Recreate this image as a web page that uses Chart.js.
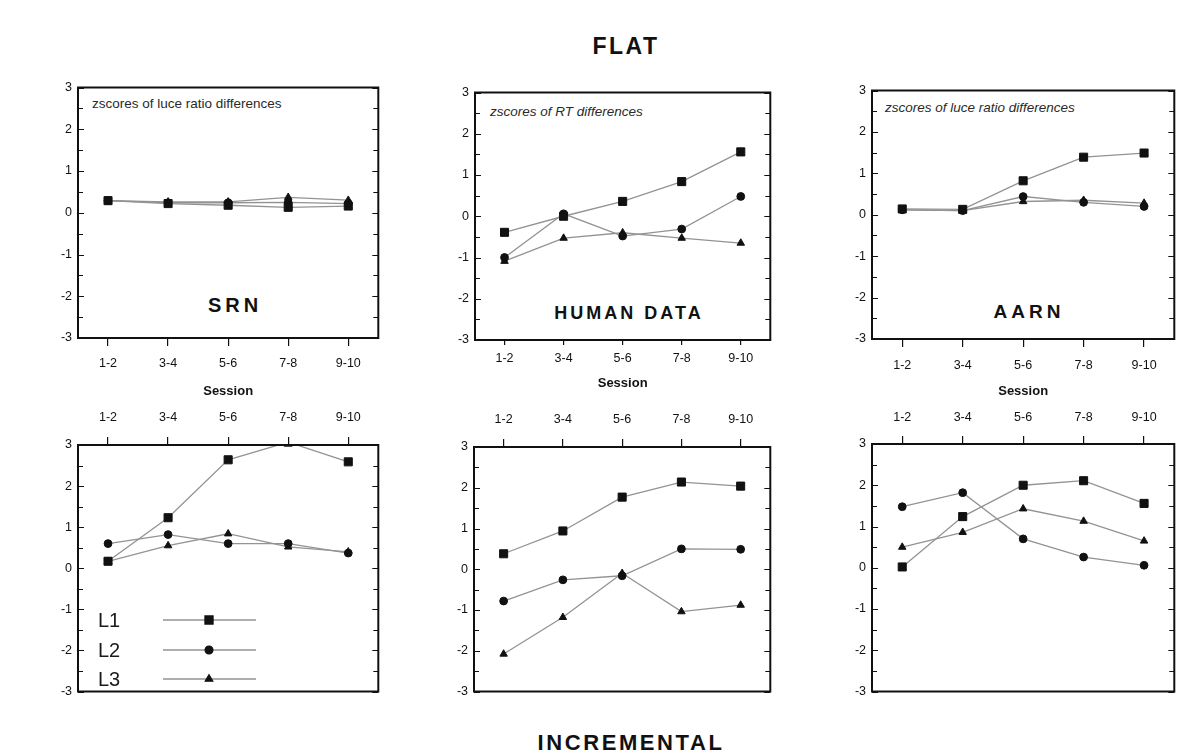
<!DOCTYPE html>
<html>
<head>
<meta charset="utf-8">
<script src="https://cdn.jsdelivr.net/npm/chart.js@4.4.0/dist/chart.umd.min.js"></script>
<style>
  body { margin: 0; background: #fff; width: 1179px; height: 754px; overflow: hidden; position: relative;
         font-family: "Liberation Sans", Arial, sans-serif; }
  canvas { position: absolute; }
  .lbl { position: absolute; font-weight: bold; color: #111; white-space: nowrap; transform: translateX(-50%); line-height: 1; }
  .note { position: absolute; font-size: 13.5px; color: #2a2a2a; white-space: nowrap; line-height: 1; }
</style>
</head>
<body>

<div class="lbl" style="left:626px; top:35px; font-size:23px; letter-spacing:2.5px;">FLAT</div>
<div class="lbl" style="left:631px; top:732px; font-size:22px; letter-spacing:2.6px;">INCREMENTAL</div>
<div class="lbl" style="left:235px; top:295px; font-size:20px; letter-spacing:4px;">SRN</div>
<div class="lbl" style="left:629px; top:304px; font-size:18px; letter-spacing:3px;">HUMAN DATA</div>
<div class="lbl" style="left:1029px; top:302px; font-size:19px; letter-spacing:4px;">AARN</div>
<div class="note" style="left:92px; top:97px;">zscores of luce ratio differences</div>
<div class="note" style="left:490px; top:105px; font-style:italic;">zscores of RT differences</div>
<div class="note" style="left:885px; top:101px; font-style:italic;">zscores of luce ratio differences</div>

<canvas id="c1"></canvas>
<canvas id="c2"></canvas>
<canvas id="c3"></canvas>
<canvas id="c4"></canvas>
<canvas id="c5"></canvas>
<canvas id="c6"></canvas>

<script>
// categories and series (z-scores)
const sessions = ['1-2', '3-4', '5-6', '7-8', '9-10'];
const seriesNames = ['L1', 'L2', 'L3'];
const yMin = -3, yMax = 3;

// FLAT row
const flatSrnL1 = [0.29, 0.22, 0.18, 0.13, 0.16];
const flatSrnL2 = [0.29, 0.24, 0.24, 0.25, 0.22];
const flatSrnL3 = [0.29, 0.26, 0.26, 0.37, 0.30];

const flatHumanL1 = [-0.39, 0.00, 0.36, 0.84, 1.56];
const flatHumanL2 = [-1.00, 0.06, -0.48, -0.31, 0.48];
const flatHumanL3 = [-1.09, -0.53, -0.40, -0.53, -0.65];

const flatAarnL1 = [0.14, 0.13, 0.82, 1.39, 1.49];
const flatAarnL2 = [0.12, 0.10, 0.44, 0.30, 0.20];
const flatAarnL3 = [0.12, 0.10, 0.32, 0.35, 0.28];

// INCREMENTAL row
const incSrnL1 = [0.17, 1.23, 2.64, 3.07, 2.59];
const incSrnL2 = [0.60, 0.82, 0.60, 0.60, 0.37];
const incSrnL3 = [0.17, 0.55, 0.84, 0.52, 0.40];

const incHumanL1 = [0.38, 0.94, 1.77, 2.14, 2.04];
const incHumanL2 = [-0.78, -0.26, -0.16, 0.50, 0.49];
const incHumanL3 = [-2.08, -1.18, -0.10, -1.04, -0.88];

const incAarnL1 = [0.02, 1.24, 2.00, 2.11, 1.56];
const incAarnL2 = [1.48, 1.82, 0.70, 0.26, 0.06];
const incAarnL3 = [0.50, 0.86, 1.43, 1.13, 0.65];

const markerStyles = [
  { pointStyle: 'rect', pointRadius: 5.7 },
  { pointStyle: 'circle', pointRadius: 3.9 },
  { pointStyle: 'triangle', pointRadius: 4.3 }
];
const lineColor = '#939393';
const inkColor = '#111';
const FONT = '"Liberation Sans", Arial, sans-serif';

// plot frame with inward ticks on both vertical sides
const framePlugin = {
  id: 'frame',
  afterDatasetsDraw(chart) {
    const a = chart.chartArea;
    const y = chart.scales.y;
    const ctx = chart.ctx;
    ctx.save();
    ctx.strokeStyle = inkColor;
    ctx.lineWidth = 1;
    for (let v = yMin; v <= yMax; v += 0.5) {
      const py = Math.round(y.getPixelForValue(v)) + 0.5;
      const len = Number.isInteger(v) ? 6 : 5;
      ctx.beginPath();
      ctx.moveTo(a.left, py); ctx.lineTo(a.left + len, py);
      ctx.moveTo(a.right, py); ctx.lineTo(a.right - len, py);
      ctx.stroke();
    }
    ctx.lineWidth = 2;
    ctx.strokeRect(a.left, a.top, a.right - a.left, a.bottom - a.top);
    ctx.restore();
  }
};

// L1/L2/L3 key drawn inside the lower-left panel
const keyPlugin = {
  id: 'inkey',
  afterDatasetsDraw(chart, args, opts) {
    if (!opts.show) return;
    const a = chart.chartArea;
    const ctx = chart.ctx;
    ctx.save();
    chart.data.datasets.forEach((ds, i) => {
      const py = a.top + opts.rows[i];
      ctx.fillStyle = '#1a1a1a';
      ctx.font = '20px ' + FONT;
      ctx.textBaseline = 'middle';
      ctx.fillText(ds.label, a.left + 20, py + 1);
      ctx.strokeStyle = lineColor;
      ctx.lineWidth = 1.3;
      ctx.beginPath();
      ctx.moveTo(a.left + 85, py); ctx.lineTo(a.left + 178, py);
      ctx.stroke();
      ctx.fillStyle = inkColor;
      ctx.strokeStyle = inkColor;
      Chart.helpers.drawPoint(ctx, { pointStyle: ds.pointStyle, radius: ds.pointRadius, rotation: 0, borderWidth: 1 }, a.left + 131, py);
    });
    ctx.restore();
  }
};

function makeDatasets(l1, l2, l3) {
  return [l1, l2, l3].map((vals, i) => ({
    label: seriesNames[i],
    data: vals,
    borderColor: lineColor,
    borderWidth: 1.3,
    pointStyle: markerStyles[i].pointStyle,
    pointRadius: markerStyles[i].pointRadius,
    pointBackgroundColor: inkColor,
    pointBorderColor: inkColor,
    pointBorderWidth: 1,
    tension: 0,
    clip: 1
  }));
}

function makePanel(id, box, top, xDim, datasets, withKey) {
  const yW = 40, pad = 8, padR = 4;
  const canvas = document.getElementById(id);
  const w = (box.r - box.l) + yW + padR;
  const h = (box.b - box.t) + pad + xDim.h;
  canvas.width = w; canvas.height = h;
  canvas.style.left = (box.l - yW) + 'px';
  canvas.style.top = (top ? box.t - pad : box.t - xDim.h) + 'px';

  new Chart(canvas.getContext('2d'), {
    type: 'line',
    data: { labels: sessions, datasets: datasets },
    options: {
      responsive: false,
      animation: false,
      devicePixelRatio: 1,
      layout: { padding: top ? { left: 0, top: pad, right: padR, bottom: 0 }
                             : { left: 0, top: 0, right: padR, bottom: pad } },
      plugins: {
        legend: { display: false },
        tooltip: { enabled: false },
        inkey: { show: !!withKey, rows: [175, 205, 234] }
      },
      scales: {
        x: {
          type: 'category',
          position: top ? 'bottom' : 'top',
          offset: true,
          grid: { offset: false, drawOnChartArea: false, drawTicks: true, tickLength: xDim.tl, color: inkColor, lineWidth: 1.2 },
          border: { display: false },
          ticks: { color: '#111', padding: xDim.pad, font: { family: FONT, size: 12.5 }, maxRotation: 0 },
          title: top ? { display: true, text: 'Session', color: '#111', padding: 0, font: { family: FONT, size: 13, weight: 'bold' } }
                     : { display: false },
          afterFit: s => { s.height = xDim.h; }
        },
        y: {
          min: yMin, max: yMax,
          grid: { display: false, drawTicks: false },
          border: { display: false },
          ticks: { stepSize: 1, color: '#111', padding: 6, font: { family: FONT, size: 12.5 } },
          afterFit: s => { s.width = yW; }
        }
      }
    },
    plugins: [framePlugin, keyPlugin]
  });
}

makePanel('c1', { l: 78, t: 82, r: 381, b: 338 }, true, { h: 61, tl: 8, pad: 10 }, makeDatasets(flatSrnL1, flatSrnL2, flatSrnL3));
makePanel('c2', { l: 475, t: 87, r: 773, b: 340 }, true, { h: 51, tl: 5, pad: 6 }, makeDatasets(flatHumanL1, flatHumanL2, flatHumanL3));
makePanel('c3', { l: 872, t: 85, r: 1177, b: 339 }, true, { h: 60, tl: 8, pad: 11 }, makeDatasets(flatAarnL1, flatAarnL2, flatAarnL3));
makePanel('c4', { l: 78, t: 445, r: 381, b: 697 }, false, { h: 40, tl: 8, pad: 12 }, makeDatasets(incSrnL1, incSrnL2, incSrnL3), true);
makePanel('c5', { l: 474, t: 447, r: 773, b: 697 }, false, { h: 40, tl: 8, pad: 12 }, makeDatasets(incHumanL1, incHumanL2, incHumanL3));
makePanel('c6', { l: 872, t: 444, r: 1177, b: 697 }, false, { h: 40, tl: 8, pad: 11 }, makeDatasets(incAarnL1, incAarnL2, incAarnL3));
</script>
</body>
</html>
